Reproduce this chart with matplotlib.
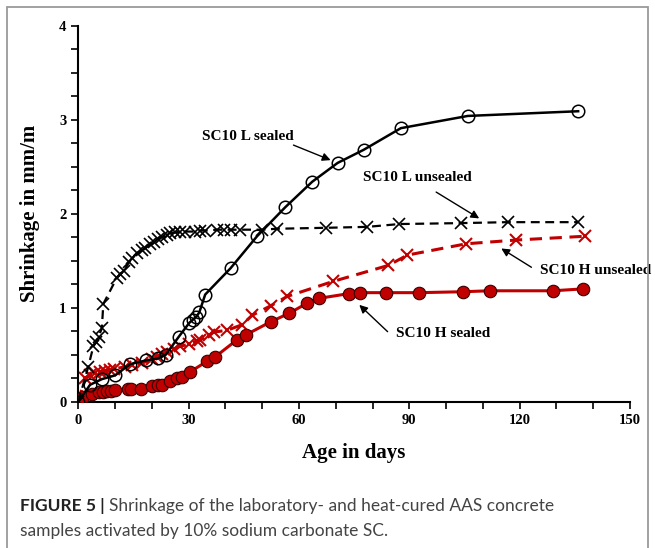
import numpy as np
import matplotlib
matplotlib.use('Agg')
import matplotlib.pyplot as plt
from matplotlib.patches import Rectangle

# SC10 L unsealed (black x, dashed)
l_uns_days = [0, 2.7, 4.1, 4.8, 5.5, 6.4, 6.8, 10.5, 11.4, 12.3, 13.9, 14.6, 15.9, 17.3,
              18.2, 19.6, 20.5, 21.6, 22.7, 24.1, 25.0, 26.4, 27.7, 29.1, 31.8, 33.2,
              34.5, 37.7, 39.5, 41.4, 44.1, 50.0, 54.1, 67.3, 78.6, 87.3, 104.1, 116.8, 135.9]
l_uns_vals = [0, 0.37, 0.59, 0.63, 0.69, 0.78, 1.04, 1.32, 1.36, 1.39, 1.49, 1.53, 1.58, 1.61,
              1.63, 1.68, 1.70, 1.73, 1.75, 1.77, 1.79, 1.80, 1.81, 1.81, 1.81, 1.82,
              1.82, 1.83, 1.83, 1.83, 1.83, 1.83, 1.84, 1.85, 1.86, 1.89, 1.90, 1.91, 1.91]

# SC10 L sealed (open circles, solid)
l_sea_days = [0, 3.2, 6.4, 10.0, 14.1, 18.5, 21.6, 23.8, 27.3, 30.2, 31.1, 32.0, 32.9,
              34.5, 41.4, 48.6, 56.3, 63.6, 70.5, 77.6, 87.7, 105.9, 135.9]
l_sea_vals = [0, 0.18, 0.24, 0.28, 0.40, 0.44, 0.46, 0.50, 0.69, 0.84, 0.87, 0.90, 0.95,
              1.14, 1.42, 1.76, 2.07, 2.34, 2.54, 2.68, 2.91, 3.04, 3.09]

# SC10 H unsealed (red x, dashed)
h_uns_days = [0, 1.8, 3.2, 4.6, 5.9, 7.3, 8.6, 9.6, 12.7, 14.6, 17.3, 20.0, 21.4, 22.7,
              24.1, 25.9, 27.7, 30.0, 32.3, 33.2, 35.5, 36.8, 40.5, 44.6, 47.3, 52.3,
              56.8, 69.3, 84.3, 89.5, 105.5, 119.1, 137.7]
h_uns_vals = [0, 0.25, 0.28, 0.30, 0.32, 0.33, 0.34, 0.35, 0.37, 0.39, 0.41, 0.45, 0.48, 0.51,
              0.53, 0.56, 0.59, 0.61, 0.65, 0.66, 0.71, 0.74, 0.76, 0.82, 0.92, 1.02,
              1.12, 1.28, 1.45, 1.56, 1.68, 1.72, 1.76]

# SC10 H sealed (red filled circles, solid)
h_sea_days = [0, 1.4, 3.7, 5.5, 6.8, 7.8, 8.9, 10.0, 13.6, 14.3, 17.0, 20.0, 21.8, 22.7,
              25.0, 26.8, 28.2, 30.5, 35.0, 37.3, 43.2, 45.5, 52.3, 57.3, 62.3, 65.5,
              73.6, 76.6, 83.6, 92.7, 104.7, 111.8, 129.1, 137.1]
h_sea_vals = [0, 0.05, 0.08, 0.10, 0.10, 0.11, 0.11, 0.12, 0.14, 0.14, 0.14, 0.17, 0.18, 0.18,
              0.22, 0.25, 0.26, 0.32, 0.43, 0.48, 0.66, 0.71, 0.85, 0.94, 1.05, 1.10,
              1.15, 1.16, 1.16, 1.16, 1.17, 1.18, 1.18, 1.20]

# annotation labels: (text, text position, arrow tail, arrow head)
labels = [
    ('SC10 L sealed', (46.1, 2.82), (58.5, 2.73), (68.6, 2.57)),
    ('SC10 L unsealed', (92.1, 2.38), (97.3, 2.23), (109.0, 1.95)),
    ('SC10 H unsealed', (140.6, 1.40), (123.2, 1.43), (115.0, 1.63)),
    ('SC10 H sealed', (99.3, 0.73), (84.1, 0.745), (76.4, 1.03)),
]

RED = '#C00000'
serif = 'Liberation Serif'

fig = plt.figure(figsize=(6.55, 5.48), dpi=100)
ax = fig.add_axes([78.3 / 655, 1 - 401.7 / 548, 551.7 / 655, 376 / 548])

ax.plot(h_uns_days, h_uns_vals, color=RED, ls=(0, (4, 2.5)), lw=2.2, marker='x',
        ms=8, mew=1.5, zorder=2)
ax.plot(h_sea_days, h_sea_vals, color=RED, ls='-', lw=2.2, marker='o', ms=9,
        mfc=RED, mec='#3a0000', mew=0.8, zorder=3)
ax.plot(l_uns_days, l_uns_vals, color='black', ls=(0, (4, 2.5)), lw=1.6, marker='x',
        ms=8, mew=1.2, zorder=4)
ax.plot(l_sea_days, l_sea_vals, color='black', ls='-', lw=1.8, marker='o', ms=9,
        mfc='none', mec='black', mew=1.1, zorder=5)

for text, tpos, tail, head in labels:
    ax.text(tpos[0], tpos[1], text, ha='center', va='center', family=serif,
            fontweight='bold', fontsize=11, clip_on=False)
    ax.annotate('', xy=head, xytext=tail,
                arrowprops=dict(arrowstyle='-|>', color='black', lw=1.0,
                                mutation_scale=12, shrinkA=0, shrinkB=0))

ax.set_xlim(0, 150)
ax.set_ylim(0, 4)
ax.set_xticks([0, 30, 60, 90, 120, 150])
ax.set_xticks(np.arange(0, 151, 10), minor=True)
ax.set_yticks([0, 1, 2, 3, 4])
ax.set_yticks(np.arange(0, 4.01, 0.25), minor=True)
ax.tick_params(which='both', direction='out', length=5, width=1.2, color='black')
for lab in ax.get_xticklabels() + ax.get_yticklabels():
    lab.set_family(serif)
    lab.set_fontweight('bold')
    lab.set_fontsize(10.5)
ax.spines['top'].set_visible(False)
ax.spines['right'].set_visible(False)
ax.spines['left'].set_linewidth(1.5)
ax.spines['bottom'].set_linewidth(1.5)

ax.set_xlabel('Age in days', family=serif, fontweight='bold', fontsize=15, labelpad=12)
ax.set_ylabel('Shrinkage in mm/m', family=serif, fontweight='bold', fontsize=15, labelpad=14)

# frame round the figure
fig.patches.append(Rectangle((7 / 655, -0.05), 641 / 655, 1 - 7 / 548 + 0.05,
                             transform=fig.transFigure, fill=False,
                             edgecolor='#9a9a9a', lw=1.3))

# caption
t1 = fig.text(20 / 655, 1 - 506 / 548, 'FIGURE 5 |', family='Lato', fontweight='bold',
              fontsize=12.5, color='#222222', va='center')
fig.canvas.draw()
bb = t1.get_window_extent()
fig.text(bb.x1 / 655 + 4 / 655, 1 - 506 / 548,
         'Shrinkage of the laboratory- and heat-cured AAS concrete',
         family='Lato', fontsize=12.5, color='#444444', va='center')
fig.text(20 / 655, 1 - 531 / 548, 'samples activated by 10% sodium carbonate SC.',
         family='Lato', fontsize=12.5, color='#444444', va='center')

fig.savefig('out.png', dpi=100)
